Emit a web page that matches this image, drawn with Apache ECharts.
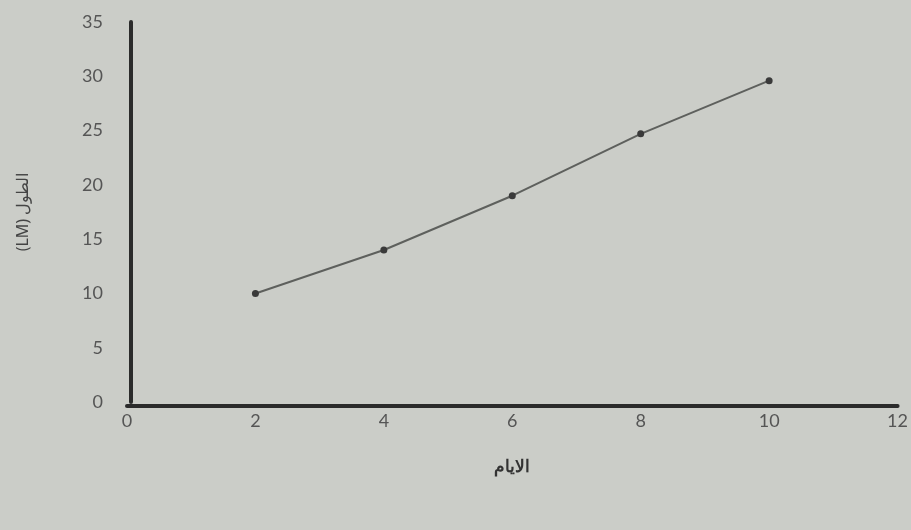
<!DOCTYPE html>
<html>
<head>
<meta charset="utf-8">
<script src="https://cdn.jsdelivr.net/npm/echarts@6/dist/echarts.min.js"></script>
<style>
html,body{margin:0;padding:0;background:#cbcdc8;}
#c{width:911px;height:530px;}
</style>
</head>
<body>
<div id="c"></div>
<script>
const days = [2, 4, 6, 8, 10];
const lengths = [10, 14, 19, 24.7, 29.6];
const xName = 'الايام';
const yName = '(LM) الطول';

const chart = echarts.init(document.getElementById('c'));
chart.setOption({
  backgroundColor: '#cbcdc8',
  animation: false,
  grid: {left: 127, right: 13, top: 22, bottom: 128},
  xAxis: {
    type: 'value', min: 0, max: 12, interval: 2,
    offset: 4,
    name: xName, nameLocation: 'middle', nameGap: 53,
    nameTextStyle: {fontFamily: 'Noto Sans', fontSize: 17, color: '#333', fontWeight: 'bold'},
    axisLine: {show: true, onZero: false, lineStyle: {color: '#2b2b2b', width: 4}},
    axisTick: {show: false},
    splitLine: {show: false},
    axisLabel: {margin: 6, fontFamily: 'Lato', fontSize: 18, color: '#555'}
  },
  yAxis: {
    type: 'value', min: 0, max: 35, interval: 5,
    offset: -4,
    name: yName, nameLocation: 'middle', nameGap: 100, nameRotate: 90,
    nameTextStyle: {fontFamily: 'Noto Sans', fontSize: 16, color: '#444'},
    axisLine: {show: true, onZero: false, lineStyle: {color: '#2b2b2b', width: 4}},
    axisTick: {show: false},
    splitLine: {show: false},
    axisLabel: {margin: 28, fontFamily: 'Lato', fontSize: 18, color: '#555'}
  },
  series: [{
    type: 'line',
    data: days.map((d, i) => [d, lengths[i]]),
    symbol: 'circle', symbolSize: 7,
    itemStyle: {color: '#3a3a3a'},
    lineStyle: {color: '#5e605d', width: 2}
  }]
});
</script>
</body>
</html>
